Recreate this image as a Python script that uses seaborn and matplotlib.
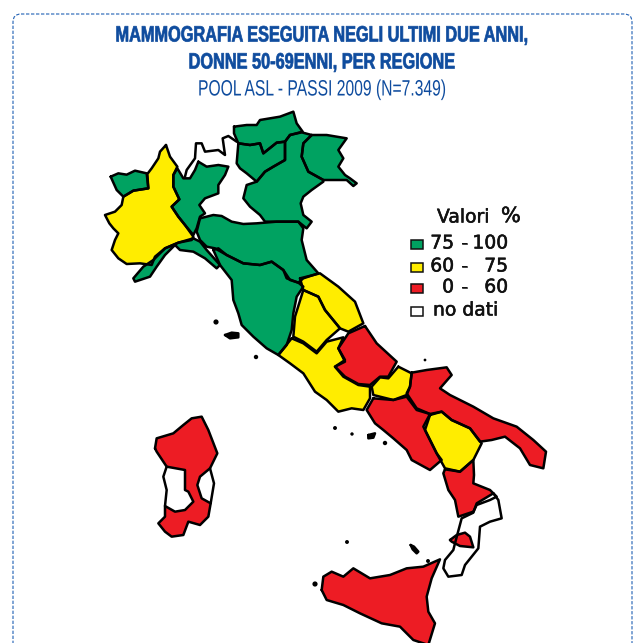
import pandas as pd
import seaborn as sns
import matplotlib.pyplot as plt
from matplotlib.patches import FancyBboxPatch, Rectangle
from matplotlib.patheffects import AbstractPathEffect, withStroke
from matplotlib.transforms import Affine2D

sns.set_theme(style='white')

# outlines traced from crops of the picture, each group has its own crop origin
# north crop: x = 90 + a/3, y = 100 + b/3
valle_aosta = [(62,230),(85,220),(110,224),(135,212),(170,220),(175,265),(130,272),(100,290),(80,270)]
piemonte = [(228,135),(240,170),(262,200),(250,225),(250,260),(268,298),(245,320),(265,350),(285,375),(310,410),(305,420),(265,428),(225,445),(195,470),(185,495),(150,490),(110,492),(85,475),(65,450),(75,420),(85,400),(70,385),(58,370),(45,345),(75,335),(95,315),(100,290),(130,272),(175,265),(172,222),(185,205),(205,175),(210,155)]
lombardia = [(325,185),(350,200),(385,195),(415,200),(405,225),(385,255),(385,280),(345,295),(328,315),(345,340),(330,350),(320,385),(310,405),(285,375),(265,350),(245,320),(268,298),(250,260),(250,225),(262,205),(280,235),(300,235),(315,210)]
alto_adige = [(432,80),(470,75),(500,75),(510,60),(570,50),(610,35),(620,70),(638,95),(600,105),(585,125),(560,128),(520,160),(510,130),(480,135),(445,130),(432,100)]
trentino = [(445,130),(480,135),(510,130),(520,160),(560,128),(585,125),(585,180),(550,200),(525,215),(500,245),(470,220),(450,205),(440,190)]
veneto = [(600,105),(635,97),(665,105),(640,130),(635,170),(655,215),(700,240),(700,245),(665,270),(640,290),(632,310),(640,345),(665,365),(650,385),(625,365),(560,365),(525,365),(510,345),(480,320),(460,295),(470,255),(500,245),(525,215),(550,200),(585,180),(585,150),(585,125)]
friuli = [(665,105),(710,105),(770,115),(745,150),(760,175),(745,200),(765,225),(780,235),(800,250),(790,258),(770,240),(720,240),(700,240),(655,215),(635,170),(640,130)]
liguria = [(310,415),(330,425),(350,450),(390,495),(380,505),(345,475),(310,455),(270,450),(255,435),(225,465),(200,500),(180,530),(135,545),(130,535),(160,500),(190,480),(225,445),(265,428)]
emilia = [(330,355),(370,345),(395,348),(425,365),(460,372),(500,370),(560,365),(625,365),(640,385),(635,420),(650,480),(685,520),(640,535),(625,548),(600,540),(580,510),(545,485),(510,495),(460,490),(410,465),(375,445),(350,440),(330,420),(320,395)]
toscana = [(370,450),(385,445),(410,465),(460,490),(510,495),(545,485),(580,510),(590,535),(625,548),(640,560),(620,590),(610,640),(605,690),(590,735),(565,765),(530,745),(490,710),(455,675),(445,640),(430,600),(425,540),(390,495)]
svizzera = [(285,230),(290,210),(315,175),(318,130),(335,130),(345,155),(385,150),(405,165),(398,115),(415,108),(440,125)]
elba = [(405,705),(425,698),(445,700),(445,712),(420,715)]

# centre and south crop: x = 260 + a/3, y = 260 + b/3
marche = [(120,55),(180,40),(235,80),(285,125),(310,190),(265,215),(240,205),(195,150),(175,110),(130,90)]
umbria = [(130,90),(175,110),(195,150),(240,205),(200,240),(170,275),(130,245),(100,230),(105,170)]
lazio = [(95,235),(130,250),(170,280),(200,245),(250,232),(235,265),(255,305),(225,320),(250,350),(295,375),(330,380),(330,415),(310,450),(275,445),(235,455),(200,420),(165,395),(130,340),(90,310),(55,285)]
abruzzo = [(315,198),(350,250),(410,305),(385,350),(360,350),(330,375),(295,372),(255,350),(225,320),(255,300),(235,265),(265,220)]
molise = [(415,320),(455,340),(450,380),(440,405),(400,420),(340,405),(335,380),(360,352),(385,355)]
campania = [(340,415),(400,420),(440,410),(470,450),(510,462),(490,500),(530,580),(545,600),(510,630),(455,600),(440,570),(400,535),(370,510),(345,490),(320,450)]
puglia = [(455,338),(500,330),(560,322),(575,345),(540,385),(570,405),(640,440),(700,475),(770,500),(820,540),(858,575),(850,625),(810,615),(780,565),(735,530),(695,540),(660,545),(630,505),(575,480),(545,455),(510,462),(470,445),(440,400),(450,380)]
basilicata = [(510,465),(545,455),(575,480),(630,505),(665,550),(640,600),(600,635),(555,625),(530,580),(495,510)]
calabria_nord = [(555,628),(600,635),(640,600),(642,645),(640,670),(690,690),(710,710),(690,720),(650,735),(640,755),(595,770),(585,720),(565,690),(550,640)]
ischia = [(325,525),(345,520),(340,533),(325,535)]

# sardinia crop: x = 140 + a/3, y = 410 + b/3
sardegna = [(45,115),(50,85),(100,70),(130,45),(155,25),(185,20),(205,60),(232,130),(210,175),(180,200),(172,225),(185,265),(212,280),(205,320),(180,345),(145,335),(130,375),(95,380),(75,365),(55,340),(75,320),(75,288),(105,305),(135,300),(160,275),(145,245),(135,240),(135,180),(80,170),(50,125)]
sardegna_ovest = [(80,170),(70,200),(80,240),(75,288)]
sardegna_est = [(210,175),(222,220),(212,280)]

# sicily crop: x = 310 + a/3, y = 490 + b/3
sicilia = [(35,300),(40,260),(65,245),(100,260),(130,235),(180,265),(240,255),(290,235),(340,230),(390,208),(365,265),(350,320),(355,365),(375,400),(355,465),(310,450),(270,410),(215,400),(150,370),(100,345),(50,330)]
calabria_sud = [(550,10),(565,30),(575,85),(540,95),(510,110),(505,175),(465,225),(455,255),(415,260),(400,235),(405,210),(430,180),(435,160),(455,85),(490,68),(500,40)]
calabria_centro = [(420,150),(440,135),(465,128),(480,140),(490,172),(450,168),(425,155)]
lipari = [(302,165),(312,170),(325,185),(320,190),(308,178)]

# small islands in picture pixels
isole_x = [216, 256, 335, 352, 385, 425, 347, 428, 315]
isole_y = [322, 357, 428, 434, 443, 360, 542, 561, 584]
isole_s = [14, 10, 8, 6, 10, 4, 8, 8, 14]

verde = '#00a261'
giallo = '#ffed00'
rosso = '#ed1c24'
bianco = '#ffffff'
nero = '#000000'
blu = '#0f4c9e'

regioni = [
    ('Valle Aosta', valle_aosta, 90, 100, verde), ('Piemonte', piemonte, 90, 100, giallo),
    ('Lombardia', lombardia, 90, 100, verde), ('Alto Adige', alto_adige, 90, 100, verde),
    ('Trentino', trentino, 90, 100, verde), ('Veneto', veneto, 90, 100, verde),
    ('Friuli', friuli, 90, 100, verde), ('Liguria', liguria, 90, 100, verde),
    ('Emilia', emilia, 90, 100, verde), ('Toscana', toscana, 90, 100, verde),
    ('Elba', elba, 90, 100, nero),
    ('Marche', marche, 260, 260, giallo), ('Umbria', umbria, 260, 260, giallo),
    ('Lazio', lazio, 260, 260, giallo), ('Abruzzo', abruzzo, 260, 260, rosso),
    ('Molise', molise, 260, 260, giallo), ('Campania', campania, 260, 260, rosso),
    ('Puglia', puglia, 260, 260, rosso), ('Basilicata', basilicata, 260, 260, giallo),
    ('Calabria nord', calabria_nord, 260, 260, rosso), ('Ischia', ischia, 260, 260, nero),
    ('Sardegna', sardegna, 140, 410, rosso),
    ('Sicilia', sicilia, 310, 490, rosso), ('Calabria sud', calabria_sud, 310, 490, bianco),
    ('Calabria centro', calabria_centro, 310, 490, rosso), ('Lipari', lipari, 310, 490, nero),
]
linee = [('Svizzera', svizzera, 90, 100), ('Sard ovest', sardegna_ovest, 140, 410), ('Sard est', sardegna_est, 140, 410)]


# squeezes real text sideways, none of the installed fonts is condensed
class Stretta(AbstractPathEffect):
    def __init__(self, cx, sx, spessore=0):
        super().__init__()
        self.cx = cx
        self.sx = sx
        self.spessore = spessore

    def draw_path(self, renderer, gc, tpath, affine, rgbFace=None):
        t = Affine2D().translate(-self.cx, 0).scale(self.sx, 1).translate(self.cx, 0)
        gc0 = renderer.new_gc()
        gc0.copy_properties(gc)
        gc0.set_foreground(blu)
        gc0.set_linewidth(self.spessore)
        renderer.draw_path(gc0, tpath, affine + t, rgbFace)
        gc0.restore()


fig, ax = plt.subplots(figsize=(6.37, 6.43), dpi=100)
fig.subplots_adjust(0, 0, 1, 1)

righe = []
for nome, punti, ox, oy, colore in regioni:
    xs = [ox + p[0] / 3 for p in punti]
    ys = [oy + p[1] / 3 for p in punti]
    ax.fill(xs, ys, color=colore, lw=0, zorder=1)
    for x, y in zip(xs + xs[:1], ys + ys[:1]):
        righe.append({'nome': nome, 'x': x, 'y': y})
for nome, punti, ox, oy in linee:
    for p in punti:
        righe.append({'nome': nome, 'x': ox + p[0] / 3, 'y': oy + p[1] / 3})
bordi = pd.DataFrame(righe)

sns.lineplot(data=bordi, x='x', y='y', units='nome', estimator=None, sort=False,
             color='black', lw=1.8, ax=ax, zorder=2, solid_joinstyle='round')
sns.scatterplot(x=isole_x, y=isole_y, size=isole_s, sizes=(4, 14), color='black',
                linewidth=0, legend=False, ax=ax, zorder=2)

# dashed frame, the bottom edge falls outside the picture
ax.add_patch(FancyBboxPatch((13, 14), 619, 700, boxstyle='round,pad=0,rounding_size=8',
                            fc='none', ec='#1f5fb4', lw=0.8, ls=(0, (3, 1.5)), zorder=0))

ax.text(322, 36, 'MAMMOGRAFIA ESEGUITA NEGLI ULTIMI DUE ANNI,', family='Liberation Sans', weight='bold',
        fontsize=16, color=blu, ha='center', va='center', path_effects=[Stretta(322, 0.734, 0.5)])
ax.text(322, 63, 'DONNE 50-69ENNI, PER REGIONE', family='Liberation Sans', weight='bold',
        fontsize=16, color=blu, ha='center', va='center', path_effects=[Stretta(322, 0.734, 0.5)])
ax.text(322, 90, 'POOL ASL - PASSI 2009 (N=7.349)', family='Liberation Sans',
        fontsize=16, color=blu, ha='center', va='center', path_effects=[Stretta(322, 0.705)])

# legend
pesante = [withStroke(linewidth=0.4, foreground='#111111')]
ax.text(437, 217, 'Valori', fontsize=13.5, color='#111111', va='center', family='DejaVu Sans', path_effects=pesante)
ax.text(501, 216, '%', fontsize=15, color='#111111', va='center', family='DejaVu Sans', path_effects=pesante)
voci_colori = [verde, giallo, rosso, bianco]
voci_a = ['75', '60', '0', 'no dati']
voci_b = ['100', '75', '60', '']
voci_y = [244, 267, 288, 311]
for c, a, b, y in zip(voci_colori, voci_a, voci_b, voci_y):
    ax.add_patch(Rectangle((411, y - 4.5), 12, 9, fc=c, ec='#111111', lw=1.1, zorder=3))
    if b:
        ax.text(454, y - 1, a, fontsize=13.5, color='#111111', ha='right', va='center', path_effects=pesante)
        ax.text(464, y - 1, '-', fontsize=13.5, color='#111111', ha='center', va='center', path_effects=pesante)
        ax.text(508, y - 1, b, fontsize=13.5, color='#111111', ha='right', va='center', path_effects=pesante)
    else:
        ax.text(433, y - 1, a, fontsize=13.5, color='#111111', ha='left', va='center', path_effects=pesante)

ax.set_xlim(0, 637)
ax.set_ylim(643, 0)
ax.axis('off')
fig.savefig('out.png', dpi=100)
